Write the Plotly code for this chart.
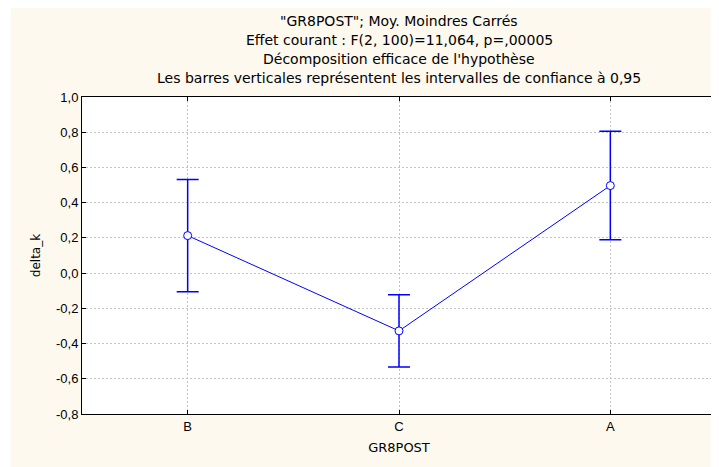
import plotly.graph_objects as go

groups = ["B", "C", "A"]
means = [0.213, -0.328, 0.497]
ci95 = [0.319, 0.205, 0.308]

y_ticks = [1.0, 0.8, 0.6, 0.4, 0.2, 0.0, -0.2, -0.4, -0.6, -0.8]
y_labels = ["1,0", "0,8", "0,6", "0,4", "0,2", "0,0", "-0,2", "-0,4", "-0,6", "-0,8"]

title_lines = [
    '"GR8POST"; Moy. Moindres Carrés',
    "Effet courant : F(2, 100)=11,064, p=,00005",
    "Décomposition efficace de l'hypothèse",
    "Les barres verticales représentent les intervalles de confiance à 0,95",
]

blue = "#0000FF"
beige = "#FDF9EE"
wide_font = "DejaVu Sans, Verdana, sans-serif"

fig = go.Figure()
fig.add_trace(go.Scatter(
    x=groups, y=means,
    mode="lines+markers",
    line=dict(color=blue, width=1),
    marker=dict(symbol="circle", size=8, color="white", line=dict(color=blue, width=1)),
    error_y=dict(type="data", array=ci95, visible=True, color=blue, thickness=1.5, width=11),
    showlegend=False,
))

# title lines, each placed on its own
title_y = [1.240, 1.180, 1.120, 1.060]
for txt, yy in zip(title_lines, title_y):
    fig.add_annotation(text=txt, xref="paper", yref="paper", x=0.5, y=yy,
                       showarrow=False, xanchor="center", yanchor="middle",
                       font=dict(size=14, color="black", family=wide_font))

# page has an 8px body margin; widen the white strip on the left a bit
fig.add_shape(type="rect", xref="paper", yref="paper", x0=-0.2, x1=-0.112, y0=-0.3, y1=1.4,
              fillcolor="white", line=dict(width=0), layer="below")

axis_common = dict(
    showline=True, linecolor="black", linewidth=1, mirror="ticks",
    ticks="inside", ticklen=4, tickcolor="black",
    showgrid=True, gridcolor="#C4C4C4", griddash="2px,2px", gridwidth=1,
    zeroline=False, tickfont=dict(size=13, color="black"), automargin=False,
)

fig.update_xaxes(range=[-0.5, 2.5],
                 title=dict(text="GR8POST", font=dict(size=13, color="black", family=wide_font), standoff=10),
                 **axis_common)
fig.update_yaxes(range=[-0.8, 1.0], tickvals=y_ticks, ticktext=y_labels,
                 title=dict(text="delta_k", font=dict(size=12, color="black", family=wide_font), standoff=12),
                 **axis_common)

fig.update_layout(
    width=711, height=459,
    margin=dict(l=74, r=3, t=89, b=53),
    paper_bgcolor=beige, plot_bgcolor="white",
    font=dict(family="Liberation Sans, Arial, sans-serif", color="black"),
)

fig.write_html("out.html")
